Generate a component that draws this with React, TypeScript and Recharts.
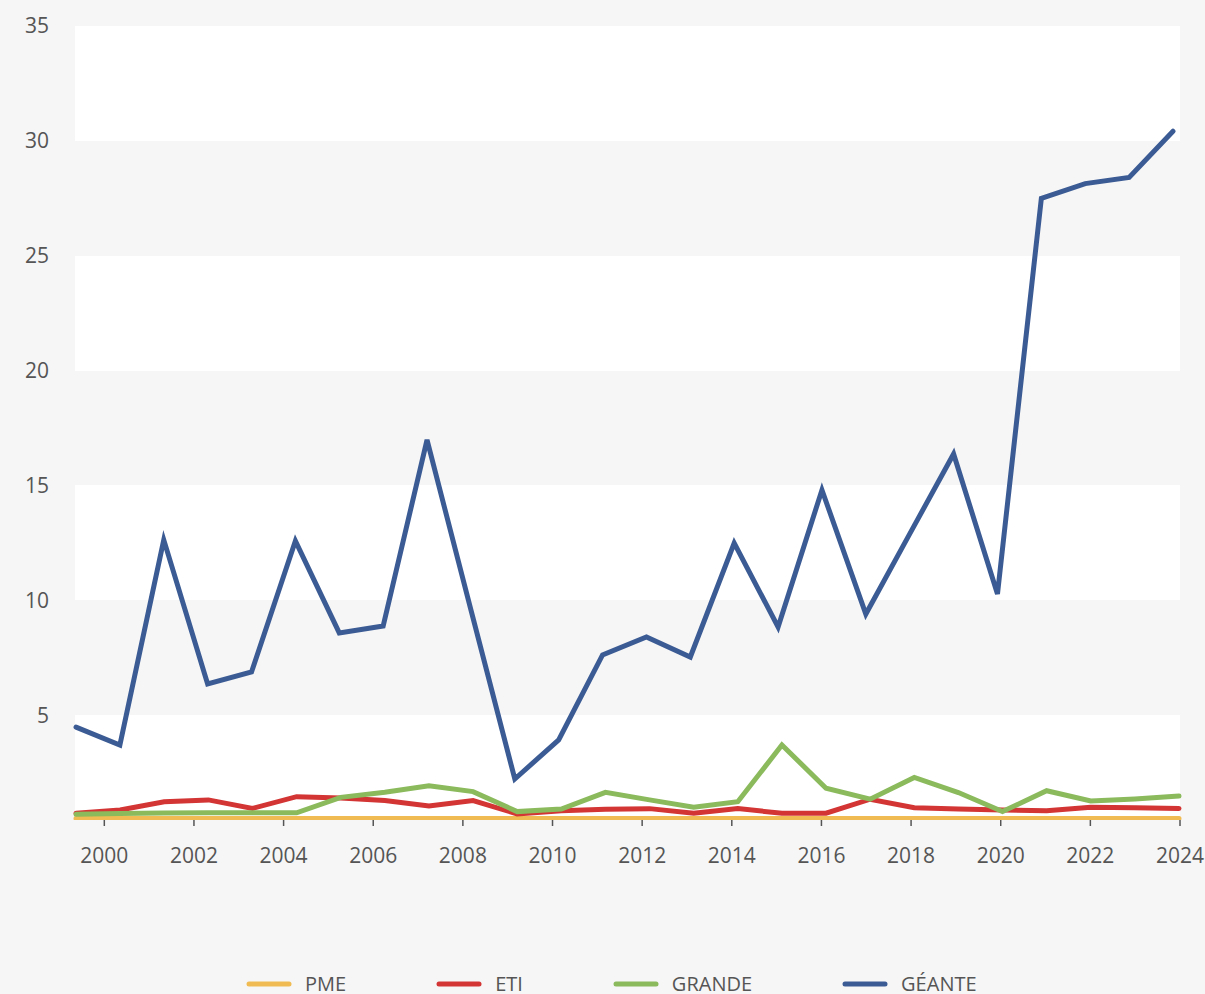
import React from 'react';
import { LineChart, Line, XAxis, YAxis, CartesianGrid, Legend } from 'recharts';

const years = ['1999', '2000', '2001', '2002', '2003', '2004', '2005', '2006', '2007', '2008', '2009', '2010', '2011', '2012', '2013', '2014', '2015', '2016', '2017', '2018', '2019', '2020', '2021', '2022', '2023', '2024'];

const pme = [0.5, 0.5, 0.5, 0.5, 0.5, 0.5, 0.5, 0.5, 0.5, 0.5, 0.5, 0.5, 0.5, 0.5, 0.5, 0.5, 0.5, 0.5, 0.5, 0.5, 0.5, 0.5, 0.5, 0.5, 0.5, 0.5];
const eti = [0.73, 0.87, 1.23, 1.31, 0.94, 1.45, 1.39, 1.28, 1.04, 1.28, 0.7, 0.84, 0.9, 0.93, 0.73, 0.93, 0.73, 0.73, 1.34, 0.97, 0.91, 0.87, 0.84, 0.99, 0.97, 0.94];
const grande = [0.68, 0.72, 0.74, 0.75, 0.75, 0.75, 1.42, 1.64, 1.93, 1.67, 0.8, 0.91, 1.64, 1.31, 0.99, 1.23, 3.7, 1.82, 1.34, 2.29, 1.63, 0.8, 1.71, 1.26, 1.35, 1.48];
const geante = [4.48, 3.7, 12.63, 6.36, 6.88, 12.58, 8.58, 8.88, 16.98, 9.58, 2.22, 3.92, 7.62, 8.4, 7.53, 12.49, 8.84, 14.8, 9.4, 12.89, 16.37, 10.27, 27.5, 28.14, 28.41, 30.42];

const yearTicks = [2000, 2002, 2004, 2006, 2008, 2010, 2012, 2014, 2016, 2018, 2020, 2022, 2024];
const valueTicks = [5, 10, 15, 20, 25, 30, 35];

const seriesKeys = ['pme', 'eti', 'grande', 'geante'];
const seriesNames = ['PME', 'ETI', 'GRANDE', 'GÉANTE'];
const seriesColors = ['#f0bb52', '#d33434', '#8aba5c', '#3b5b94'];

const data = years.map((year, i) => ({
  year,
  pme: pme[i],
  eti: eti[i],
  grande: grande[i],
  geante: geante[i],
}));

const FONT = '"Open Sans", "Noto Sans", sans-serif';
const TEXT = '#555555';
const BG = '#f6f6f6';

const renderLegend = () => (
  <div
    style={{
      display: 'flex',
      alignItems: 'center',
      paddingLeft: 246,
      fontFamily: FONT,
      fontSize: 20,
      color: TEXT,
      lineHeight: '18px',
      height: 18,
    }}
  >
    {seriesNames.map((name, i) => (
      <div key={name} style={{ display: 'flex', alignItems: 'center', marginRight: 90 }}>
        <svg width={46} height={6} style={{ display: 'block' }}>
          <line x1={3} y1={3} x2={43} y2={3} stroke={seriesColors[i]} strokeWidth={5} strokeLinecap="round" />
        </svg>
        <span style={{ marginLeft: 13 }}>{name}</span>
      </div>
    ))}
  </div>
);

export default function App() {
  return (
    <div
      style={{
        position: 'absolute',
        left: 0,
        top: 0,
        width: 1205,
        height: 994,
        background: BG,
        overflow: 'hidden',
      }}
    >
      <LineChart
        width={1205}
        height={994}
        data={data}
        margin={{ top: 26, right: 25, bottom: 114, left: 15 }}
      >
        <CartesianGrid
          xAxisId="year"
          vertical={false}
          horizontal={true}
          stroke="none"
          horizontalFill={['#ffffff', BG]}
        />
        <XAxis
          xAxisId="year"
          type="number"
          dataKey="yearNum"
          domain={[1999.346, 2024]}
          allowDataOverflow
          ticks={yearTicks}
          interval={0}
          height={60}
          axisLine={false}
          tickLine={{ stroke: TEXT, strokeWidth: 1.5 }}
          tickSize={6}
          tickMargin={22}
          tick={{ fill: TEXT, fontSize: 21, fontFamily: FONT }}
        />
        <XAxis xAxisId="low" dataKey="year" hide height={0} padding={{ left: 1, right: 1 }} />
        <XAxis xAxisId="blue" dataKey="year" hide height={0} padding={{ left: 1, right: 7 }} />
        <YAxis
          type="number"
          domain={[0.435, 35]}
          allowDataOverflow
          ticks={valueTicks}
          interval={0}
          width={60}
          axisLine={false}
          tickLine={false}
          tickSize={6}
          tickMargin={20}
          tick={{ fill: TEXT, fontSize: 21, fontFamily: FONT }}
        />
        <Legend
          layout="horizontal"
          verticalAlign="middle"
          align="center"
          content={renderLegend}
          wrapperStyle={{ top: 975, left: 0, width: 1205 }}
        />
        {seriesKeys.map((key, i) => (
          <Line
            key={key}
            xAxisId={key === 'geante' ? 'blue' : 'low'}
            type="linear"
            dataKey={key}
            name={seriesNames[i]}
            stroke={seriesColors[i]}
            strokeWidth={5}
            strokeLinecap="round"
            strokeLinejoin="miter"
            dot={false}
            activeDot={false}
            isAnimationActive={false}
          />
        ))}
      </LineChart>
    </div>
  );
}
